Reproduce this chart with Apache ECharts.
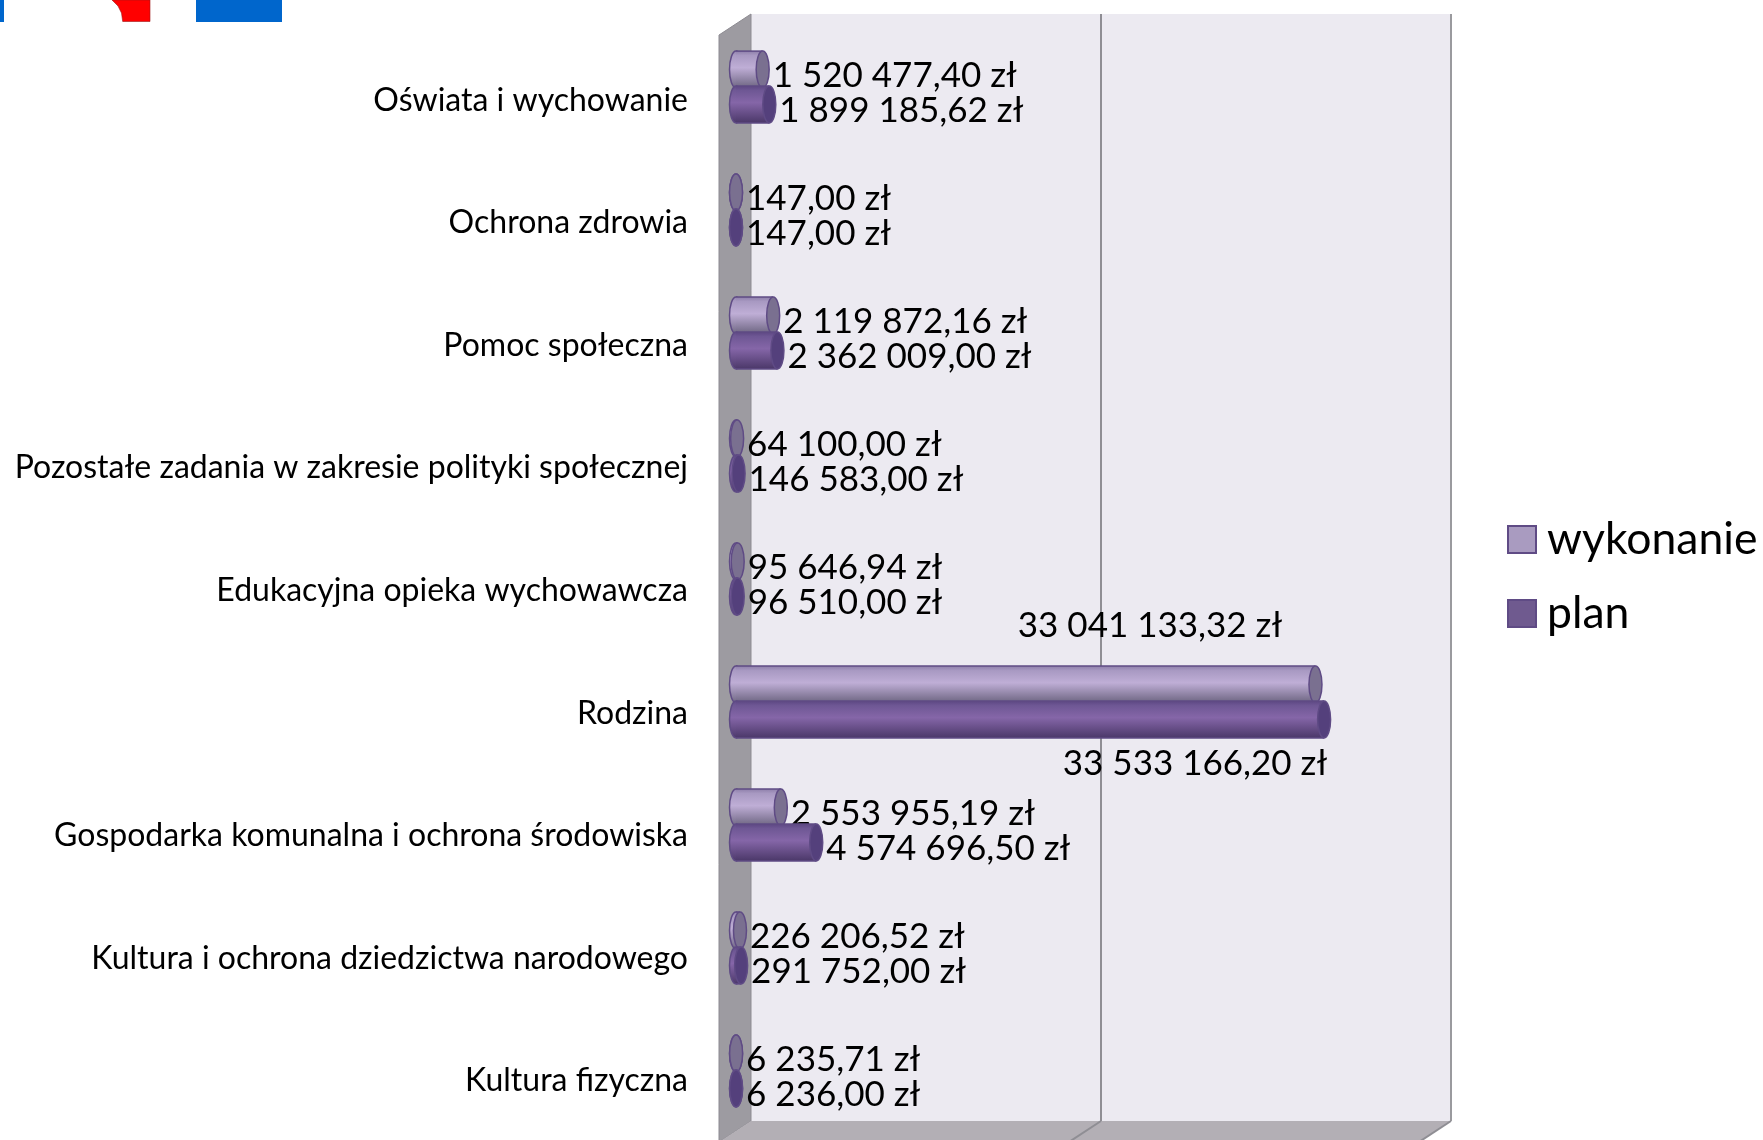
<!DOCTYPE html>
<html><head><meta charset="utf-8">
<style>html,body{margin:0;padding:0;background:#fff;overflow:hidden}#c{width:1763px;height:1140px}</style>
<script src="https://cdn.jsdelivr.net/npm/echarts@6/dist/echarts.min.js"></script>
</head><body><div id="c"></div>
<script>
const categories = ['Oświata i wychowanie','Ochrona zdrowia','Pomoc społeczna','Pozostałe zadania w zakresie polityki społecznej','Edukacyjna opieka wychowawcza','Rodzina','Gospodarka komunalna i ochrona środowiska','Kultura i ochrona dziedzictwa narodowego','Kultura fizyczna'];
const wykonanie = [1520477.40,147.00,2119872.16,64100.00,95646.94,33041133.32,2553955.19,226206.52,6235.71];
const plan = [1899185.62,147.00,2362009.00,146583.00,96510.00,33533166.20,4574696.50,291752.00,6236.00];
const valueMax = 40000000, valueStep = 20000000;

const FONT = 'Lato';
const W = 700, H = 1107;
const FRONT = {left:719, top:35}, BACK = {left:751, top:14}, MID = {left:736, top:25.5};
const LABEL_SHIFT = 4, LABEL_GROW = -3.6;
const money = v => v.toFixed(2).replace('.',',').replace(/\B(?=(\d{3})+(?!\d))/g,' ') + ' zł';

const chart = echarts.init(document.getElementById('c'), null, {renderer:'canvas'});
const grad = (a,b,c,d) => new echarts.graphic.LinearGradient(0,0,0,1,[{offset:0,color:a},{offset:.12,color:b},{offset:.45,color:c},{offset:1,color:d}]);

function cylinder(kind){
  const light = kind === 'w';
  const fill = light ? ['#8f80ab','#a899c2','#bfaed6','#6c6480'] : ['#5d4783','#6e5794','#8566a8','#4b3869'];
  const capFill = light ? '#7a7090' : '#54407c';
  const edge = '#5f4b85';
  return function(params, api){
    const idx = api.value(1), val = api.value(0);
    const end = api.coord([val, idx]), start = api.coord([0, idx]);
    const band = api.size([0,1])[1];
    const h = band * 0.30, rx = 6.5;
    const cy = end[1] + (light ? -h/2 + 1 : h/2 - 1);
    const top = cy - h/2;
    const g = grad(...fill);
    const kids = [
      {type:'ellipse', shape:{cx:start[0], cy, rx, ry:h/2}, style:{fill:g, stroke:edge, lineWidth:1.5}},
      {type:'rect', shape:{x:start[0], y:top, width:Math.max(end[0]-start[0],0), height:h}, style:{fill:g}},
      {type:'line', shape:{x1:start[0], y1:top, x2:end[0], y2:top}, style:{stroke:edge, lineWidth:1.5}},
      {type:'line', shape:{x1:start[0], y1:top+h, x2:end[0], y2:top+h}, style:{stroke:edge, lineWidth:1.5}},
      {type:'ellipse', shape:{cx:end[0], cy, rx, ry:h/2}, style:{fill:capFill, stroke:edge, lineWidth:1.5}}
    ];
    const big = categories[idx] === 'Rodzina';
    kids.push({type:'text', z2:100, style:{
      text: money(val), font:`35px ${FONT}`, fill:'#000',
      x: big ? (light ? 1150 : 1195) : end[0] + rx + 3.5,
      y: big ? (light ? cy - 59 : cy + 44) : cy + 6,
      align: big ? 'center' : 'left', verticalAlign:'middle'
    }});
    return {type:'group', children:kids};
  };
}

const axisX = (grid, extra) => Object.assign({type:'value', gridIndex:grid, min:0, max:valueMax, interval:valueStep,
  axisLabel:{show:false}, axisTick:{show:false}, axisLine:{show:false}, splitLine:{show:false}}, extra);
const axisY = (grid, extra) => Object.assign({type:'category', gridIndex:grid, data:categories, inverse:true,
  axisLabel:{show:false}, axisTick:{show:false}, axisLine:{show:false}, splitLine:{show:false}}, extra);

chart.setOption({
  animation:false,
  backgroundColor:'#fff',
  legend:{
    orient:'vertical', left:1502, top:512, itemWidth:28, itemHeight:27, itemGap:29,
    textStyle:{fontFamily:FONT, fontSize:44.5, color:'#000', padding:[0,0,0,6]},
    data:[{name:'wykonanie', icon:'rect', itemStyle:{color:'#a99bc0', borderColor:'#5f4b85', borderWidth:2}},
          {name:'plan', icon:'rect', itemStyle:{color:'#6f5a8f', borderColor:'#5f4b85', borderWidth:2}}]
  },
  grid:[
    {left:FRONT.left, top:FRONT.top + LABEL_SHIFT, width:W, height:H + LABEL_GROW, outerBoundsMode:'none'},
    {left:BACK.left, top:BACK.top, width:W, height:H, show:true, backgroundColor:'#ECEAF1', borderWidth:0, outerBoundsMode:'none'},
    {left:MID.left, top:MID.top, width:W + 1.5, height:H, outerBoundsMode:'none'}
  ],
  xAxis:[
    axisX(0),
    axisX(1,{splitLine:{show:true, showMinLine:false, lineStyle:{color:'#8f8e94', width:2}}}),
    axisX(2)
  ],
  yAxis:[
    axisY(0,{axisLabel:{show:true, margin:31, fontFamily:FONT, fontSize:32, color:'#000'}}),
    axisY(1),
    axisY(2)
  ],
  series:[
    {type:'custom', name:'wykonanie', xAxisIndex:2, yAxisIndex:2, clip:false, z:5, itemStyle:{color:'#a99bc0'},
     encode:{x:0,y:1}, data:wykonanie.map((v,i)=>[v,i]), renderItem:cylinder('w')},
    {type:'custom', name:'plan', xAxisIndex:2, yAxisIndex:2, clip:false, z:6, itemStyle:{color:'#6f5a8f'},
     encode:{x:0,y:1}, data:plan.map((v,i)=>[v,i]), renderItem:cylinder('p')}
  ],
  graphic:[
    {type:'polygon', z:1, shape:{points:[[FRONT.left,FRONT.top],[BACK.left,BACK.top],[BACK.left,BACK.top+H],[FRONT.left,FRONT.top+H]]},
     style:{fill:'#9d9ba1', stroke:'#8d8b92', lineWidth:1}},
    {type:'polygon', z:1, shape:{points:[[BACK.left,BACK.top+H],[BACK.left+W,BACK.top+H],[FRONT.left+W,FRONT.top+H],[FRONT.left,FRONT.top+H]]},
     style:{fill:'#b3afb5'}},
    {type:'line', z:2, shape:{x1:BACK.left+W/2,y1:BACK.top+H,x2:FRONT.left+W/2,y2:FRONT.top+H}, style:{stroke:'#8f8e94',lineWidth:2}},
    {type:'line', z:2, shape:{x1:BACK.left+W,y1:BACK.top,x2:BACK.left+W,y2:BACK.top+H}, style:{stroke:'#9a9a9e',lineWidth:2}},
    {type:'line', z:2, shape:{x1:BACK.left+W,y1:BACK.top+H,x2:FRONT.left+W,y2:FRONT.top+H}, style:{stroke:'#8f8e94',lineWidth:2}},
    {type:'rect', z:1, shape:{x:0,y:0,width:4,height:22}, style:{fill:'#0066CC'}},
    {type:'rect', z:1, shape:{x:196,y:0,width:86,height:22}, style:{fill:'#0066CC'}},
    {type:'polygon', z:1, shape:{points:[[112,0],[150,0],[150,21.5],[122.7,21.5],[121.5,13],[118,6]]}, style:{fill:'#FF0000', stroke:'#a01818', lineWidth:.6}}
  ]
});
</script></body></html>
